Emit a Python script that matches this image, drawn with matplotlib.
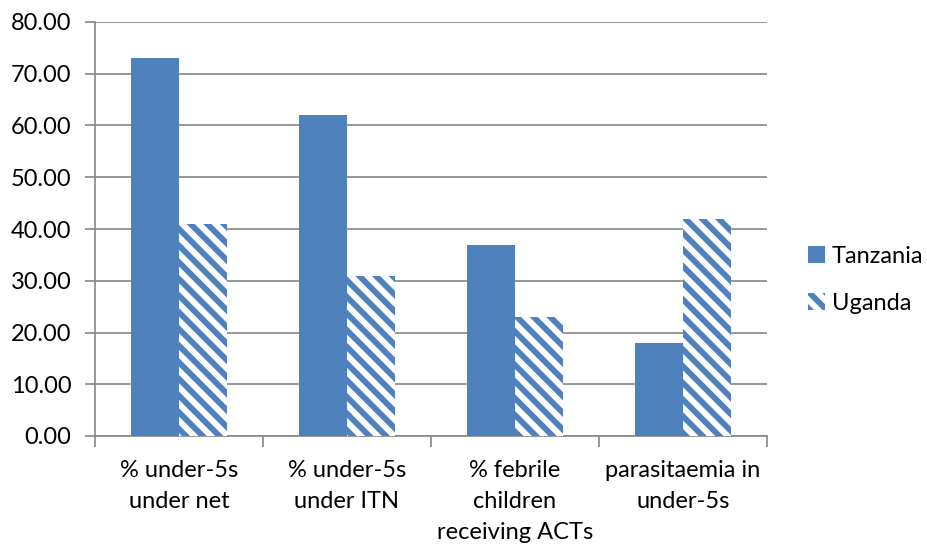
import matplotlib
matplotlib.use("Agg")
import matplotlib.pyplot as plt
import numpy as np

# chart data
categories = ["% under-5s\nunder net", "% under-5s\nunder ITN",
              "% febrile\nchildren\nreceiving ACTs", "parasitaemia in\nunder-5s"]
tanzania = [73, 62, 37, 18]
uganda = [41, 31, 23, 42]
yticks = np.arange(0, 81, 10)

blue = "#4F81BD"
grid_grey = "#868686"

plt.rcParams['font.family'] = ['Lato', 'DejaVu Sans']
plt.rcParams['hatch.linewidth'] = 4.2
plt.rcParams['hatch.color'] = blue

fig = plt.figure(figsize=(9.27, 5.48), dpi=100)
ax = fig.add_axes([95 / 927, 1 - 436 / 548, 672 / 927, 414 / 548])

x = np.arange(len(categories))
w = 0.286
ax.bar(x - w / 2, tanzania, w, color=blue, label="Tanzania", zorder=3)
ax.bar(x + w / 2, uganda, w, facecolor="white", edgecolor=blue, linewidth=0,
       hatch="\\\\", label="Uganda", zorder=3)

ax.set_xlim(-0.5, len(categories) - 0.5)
ax.set_ylim(0, 80)
ax.set_yticks(yticks)
ax.set_yticklabels(["%.2f" % v for v in yticks], fontsize=17)
ax.yaxis.grid(True, color=grid_grey, linewidth=1.2)
ax.set_axisbelow(True)

# category labels sit between the tick marks at group boundaries
ax.set_xticks(np.arange(len(categories) + 1) - 0.5)
ax.set_xticklabels([])
ax.set_xticks(x, minor=True)
ax.set_xticklabels(categories, minor=True, fontsize=17, linespacing=1.6)
ax.tick_params(axis="x", which="minor", length=0, pad=17)
ax.tick_params(axis="x", which="major", length=8, color=grid_grey, width=1.2)
ax.tick_params(axis="y", length=7, color=grid_grey, width=1.2, pad=10)

for s in ["top", "right"]:
    ax.spines[s].set_visible(False)
for s in ["left", "bottom"]:
    ax.spines[s].set_color(grid_grey)
    ax.spines[s].set_linewidth(1.2)

ax.legend(loc="center left", bbox_to_anchor=(1.03, 0.377), frameon=False,
          fontsize=17, handlelength=0.7, handleheight=0.7,
          handletextpad=0.3, labelspacing=1.1)

fig.savefig("out.png", dpi=100)
